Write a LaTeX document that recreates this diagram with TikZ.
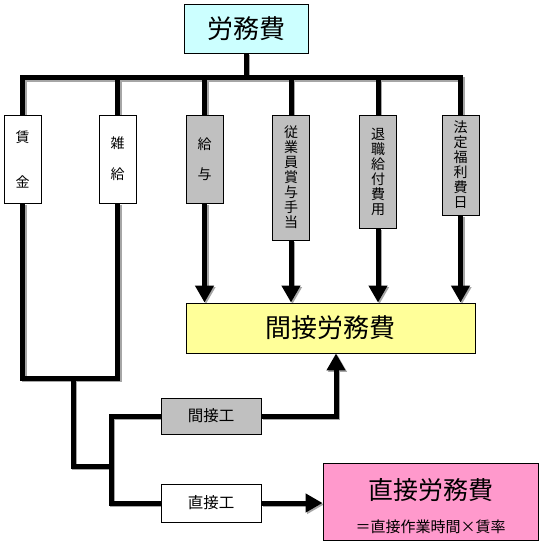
\documentclass[tikz,border=0pt]{standalone}
\usepackage{fontspec}
\setmainfont{Noto Sans CJK JP}
\usetikzlibrary{arrows.meta,backgrounds}
\definecolor{topc}{HTML}{CCFFFF}
\definecolor{grayc}{HTML}{C0C0C0}
\definecolor{yelc}{HTML}{FFFF99}
\definecolor{pinkc}{HTML}{FF99CC}
\definecolor{shadc}{HTML}{A6A6A6}
\newcommand\myconns[1]{%
  \foreach \i in {1,...,6} {\draw[conn,#1] (top.south) -- (J) -| (b\i.north);}
  \foreach \i in {3,...,6} {\draw[arr,#1] (b\i.south) -- (b\i.south |- ind.north);}
  \draw[conn,#1] (b1.south) |- (lp) -| (b2.south);
  \draw[conn,#1] (lp) |- (sx);
  \draw[conn,#1] (iw.west) -| (sx) |- (dw.west);
  \draw[arr,#1] (iw.east) -| ([xshift=5.5pt]ind.south);
  \draw[arr,#1] (dw.east) -- (dw.east -| dir.west);
}
\begin{document}
\begin{tikzpicture}[x=1pt,y=-1pt,
  box/.style={draw=black,line width=0.9pt,inner sep=0pt,anchor=center},
  vbox/.style={box,minimum width=37pt,font=\fontsize{14}{15}\selectfont,align=center},
  hbox/.style={box,minimum width=100pt,font=\fontsize{15.5}{18}\selectfont},
  conn/.style={line width=5pt},
  arr/.style={conn,-{Triangle[length=17pt,width=18pt]}},
  shad/.style={draw=shadc,transform canvas={shift={(1.5pt,-1.5pt)}}},
]
\useasboundingbox (0,0) rectangle (540,545);

\node[box,fill=topc,minimum width=124pt,minimum height=49pt,font=\fontsize{26}{30}\selectfont] (top) at (246,28.5) {労務費};

\node[vbox,fill=white,minimum height=88pt] (b1) at (22.5,159) {賃\\[30pt]金};
\node[vbox,fill=white,minimum height=88pt] (b2) at (117.5,159) {雑\\[16pt]給};
\node[vbox,fill=grayc,minimum height=88pt] (b3) at (204.5,159) {給\\[15pt]与};
\node[vbox,fill=grayc,minimum height=125pt] (b4) at (291,177.5) {従\\業\\員\\賞\\与\\手\\当};
\node[vbox,fill=grayc,minimum height=113pt] (b5) at (378,171.5) {退\\職\\給\\付\\費\\用};
\node[vbox,fill=grayc,minimum height=100pt] (b6) at (460.5,165) {法\\定\\福\\利\\費\\日};

\node[box,fill=yelc,minimum width=289pt,minimum height=50pt,font=\fontsize{26}{30}\selectfont] (ind) at (330.5,328) {間接労務費};

\node[hbox,fill=grayc,minimum height=36pt] (iw) at (211,416) {間接工};
\node[hbox,fill=white,minimum height=38pt] (dw) at (211,503) {直接工};

\node[box,fill=pinkc,minimum width=215pt,minimum height=77pt] (dir) at (430.5,501.5) {};
\node[font=\fontsize{25}{30}\selectfont,inner sep=0pt] (dirT) at (430.5,490) {直接労務費};
\node[font=\fontsize{15}{18}\selectfont,inner sep=0pt] (dirF) at (430.5,527) {＝直接作業時間×賃率};

\coordinate (J) at (246,78);
\coordinate (lp) at (73,378);
\coordinate (sx) at (111,466);

\begin{scope}[on background layer]
  \fill[white] (0,0) rectangle (540,545);
  \myconns{shad}
  \myconns{draw=black}
\end{scope}
\end{tikzpicture}
\end{document}
